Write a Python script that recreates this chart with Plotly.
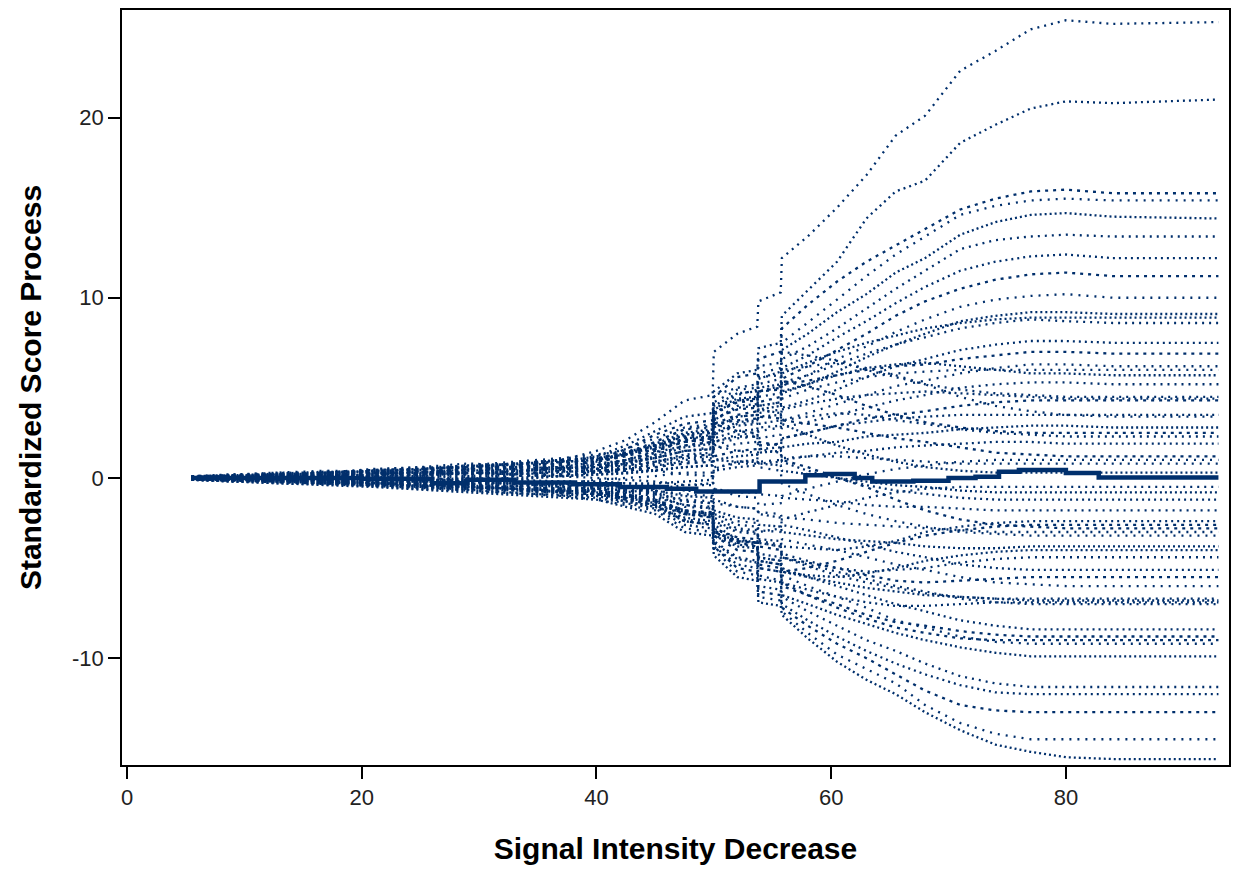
import plotly.graph_objects as go

# x positions (Signal Intensity Decrease) at which the simulated paths were read
knots = [5.5, 9, 13, 17, 21, 25, 29, 33, 37, 40, 42.5, 45, 47.5, 49.9, 50, 52, 53.7,
         53.8, 55.7, 55.8, 58, 60.5, 63, 65.5, 68, 71, 74, 77, 80, 84, 93]

# simulated standardized score processes (one list per path)
sim_01 = [0.08, 0.15, 0.2, 0.3, 0.35, 0.5, 0.6, 0.8, 1.0, 1.5, 2.1, 3.1, 4.3, 4.6, 7.0, 8.0, 8.4, 9.8, 10.3, 12.2, 13.4, 15.0, 16.8, 19.0, 20.1, 22.6, 23.7, 24.9, 25.4, 25.2, 25.3]
sim_02 = [0.05, 0.1, 0.25, 0.2, 0.4, 0.45, 0.7, 0.6, 0.9, 1.2, 1.8, 2.6, 3.4, 3.6, 4.8, 5.8, 6.0, 7.2, 7.5, 9.0, 10.4, 12.0, 14.4, 15.9, 16.5, 18.6, 19.6, 20.5, 20.9, 20.8, 21.0]
sim_03 = [-0.05, 0.1, -0.1, 0.15, 0.3, 0.2, 0.5, 0.7, 0.8, 1.0, 1.6, 2.4, 3.0, 3.2, 4.5, 5.6, 5.8, 6.6, 7.0, 8.3, 9.6, 10.9, 12.0, 12.9, 13.8, 14.9, 15.5, 15.9, 16.0, 15.8, 15.8]
sim_04 = [0.1, 0.0, 0.2, 0.35, 0.25, 0.4, 0.3, 0.6, 0.7, 0.8, 1.3, 2.0, 2.7, 2.8, 3.8, 4.6, 4.9, 5.8, 6.1, 7.5, 8.6, 9.9, 11.2, 12.4, 13.4, 14.6, 15.1, 15.4, 15.5, 15.4, 15.4]
sim_05 = [0.0, 0.05, 0.1, 0.0, 0.2, 0.35, 0.45, 0.3, 0.6, 0.9, 1.4, 1.9, 2.5, 2.7, 4.0, 4.7, 4.8, 5.5, 5.9, 7.1, 8.0, 9.2, 10.2, 11.4, 12.2, 13.5, 14.2, 14.6, 14.7, 14.5, 14.4]
sim_06 = [0.05, 0.2, 0.15, 0.3, 0.5, 0.6, 0.55, 0.8, 1.0, 1.1, 1.3, 1.6, 2.2, 2.4, 3.5, 4.3, 4.4, 5.2, 5.5, 6.6, 7.3, 8.3, 9.4, 10.5, 11.5, 12.7, 13.2, 13.4, 13.5, 13.4, 13.4]
sim_07 = [-0.05, 0.0, 0.1, 0.1, 0.3, 0.2, 0.4, 0.5, 0.4, 0.8, 1.0, 1.4, 2.2, 2.3, 3.2, 4.0, 4.1, 4.8, 5.1, 6.1, 6.8, 7.8, 8.7, 9.7, 10.6, 11.5, 12.0, 12.3, 12.4, 12.2, 12.2]
sim_08 = [0.0, -0.1, 0.05, -0.05, 0.1, 0.3, 0.2, 0.35, 0.55, 0.6, 0.9, 1.3, 1.8, 2.0, 3.0, 3.5, 3.7, 4.2, 4.5, 5.5, 6.2, 7.1, 8.0, 9.0, 9.8, 10.5, 11.0, 11.3, 11.4, 11.2, 11.2]
sim_09 = [0.1, 0.15, 0.3, 0.4, 0.35, 0.55, 0.7, 0.9, 1.1, 1.3, 1.5, 1.7, 2.0, 2.1, 2.8, 3.4, 3.5, 4.0, 4.2, 5.1, 5.7, 6.6, 7.3, 8.1, 8.8, 9.5, 9.9, 10.1, 10.2, 10.0, 10.0]
sim_10 = [0.0, 0.1, 0.05, 0.2, 0.15, 0.1, 0.3, 0.2, 0.3, 0.5, 0.8, 1.1, 1.5, 1.6, 2.5, 3.1, 3.2, 3.8, 4.0, 4.7, 5.2, 5.9, 6.7, 7.4, 8.0, 8.7, 9.0, 9.2, 9.2, 9.1, 9.1]
sim_11 = [-0.1, -0.15, -0.2, -0.1, 0.0, 0.2, 0.3, 0.5, 0.6, 0.7, 1.0, 1.4, 1.8, 2.0, 3.2, 3.9, 4.0, 4.5, 4.7, 5.3, 5.7, 6.3, 6.9, 7.4, 7.8, 8.3, 8.6, 8.8, 8.7, 8.6, 8.6]
sim_12 = [0.0, 0.05, -0.05, -0.15, 0.0, 0.1, 0.0, 0.2, 0.35, 0.4, 0.6, 0.9, 1.3, 1.4, 2.2, 2.6, 2.7, 3.0, 3.2, 3.9, 4.3, 4.9, 5.6, 6.2, 6.6, 7.1, 7.4, 7.6, 7.6, 7.5, 7.5]
sim_13 = [0.05, 0.1, 0.2, 0.15, 0.3, 0.4, 0.6, 0.5, 0.7, 0.9, 1.3, 1.8, 2.3, 2.5, 3.6, 4.2, 4.3, 4.8, 4.9, 5.2, 5.4, 5.7, 6.0, 6.2, 6.3, 6.6, 6.8, 7.0, 7.0, 6.9, 6.9]
sim_14 = [0.0, -0.05, 0.1, 0.2, 0.1, -0.1, 0.05, 0.15, 0.1, 0.3, 0.4, 0.6, 1.0, 1.1, 1.8, 2.2, 2.3, 2.6, 2.8, 3.2, 3.6, 4.1, 4.6, 5.1, 5.4, 5.8, 6.1, 6.3, 6.3, 6.2, 6.2]
sim_15 = [-0.05, 0.0, -0.1, 0.05, 0.2, 0.3, 0.25, 0.4, 0.6, 0.5, 0.8, 1.2, 1.7, 1.9, 2.8, 3.4, 3.5, 4.0, 4.2, 4.8, 5.2, 5.7, 6.1, 6.3, 6.4, 6.2, 6.0, 5.8, 5.8, 5.7, 5.7]
sim_16 = [0.05, 0.1, 0.0, 0.1, 0.25, 0.15, 0.3, 0.2, 0.4, 0.4, 0.5, 0.7, 0.9, 1.0, 1.6, 1.9, 2.0, 2.2, 2.4, 2.8, 3.1, 3.5, 3.9, 4.3, 4.6, 5.0, 5.2, 5.3, 5.3, 5.2, 5.2]
sim_17 = [0.1, 0.15, 0.1, 0.3, 0.4, 0.3, 0.5, 0.6, 0.55, 0.6, 0.9, 1.1, 1.5, 1.6, 2.4, 2.9, 3.0, 3.4, 3.5, 3.8, 4.1, 4.4, 4.6, 4.7, 4.8, 4.7, 4.6, 4.5, 4.4, 4.4, 4.4]
sim_18 = [-0.05, -0.1, -0.05, -0.2, -0.1, 0.0, -0.1, 0.1, 0.2, 0.3, 0.4, 0.6, 0.8, 0.9, 1.2, 1.5, 1.6, 1.8, 1.9, 2.2, 2.5, 2.9, 3.3, 3.5, 3.7, 4.0, 4.2, 4.3, 4.3, 4.3, 4.3]
sim_19 = [0.0, 0.05, 0.15, 0.2, 0.1, 0.35, 0.5, 0.7, 0.9, 1.0, 1.4, 2.0, 2.7, 2.9, 4.2, 4.9, 5.0, 5.6, 5.7, 6.0, 6.2, 6.4, 6.1, 5.7, 5.2, 4.5, 4.0, 3.7, 3.5, 3.4, 3.4]
sim_20 = [0.05, 0.0, -0.1, -0.05, -0.2, -0.15, 0.0, -0.1, 0.1, 0.2, 0.25, 0.4, 0.6, 0.7, 1.0, 1.2, 1.3, 1.4, 1.5, 1.7, 1.9, 2.0, 2.3, 2.4, 2.5, 2.7, 2.8, 2.9, 2.9, 2.8, 2.8]
sim_21 = [0.0, 0.1, 0.05, 0.15, 0.3, 0.25, 0.2, 0.4, 0.5, 0.5, 0.7, 0.9, 1.2, 1.3, 2.0, 2.4, 2.5, 2.8, 2.9, 3.2, 3.4, 3.6, 3.5, 3.2, 3.0, 2.7, 2.5, 2.4, 2.3, 2.3, 2.3]
sim_22 = [-0.1, -0.05, 0.0, 0.1, 0.0, -0.2, -0.1, -0.3, -0.2, -0.2, -0.3, -0.3, -0.2, -0.1, 0.4, 0.6, 0.7, 0.8, 0.9, 1.0, 1.2, 1.4, 1.5, 1.7, 1.8, 1.9, 2.0, 2.0, 1.9, 1.9, 1.9]
sim_23 = [0.0, 0.05, 0.2, 0.3, 0.45, 0.5, 0.6, 0.8, 1.0, 1.1, 1.4, 1.8, 2.1, 2.3, 3.0, 3.2, 3.3, 3.4, 3.3, 3.2, 3.0, 2.8, 2.5, 2.2, 2.0, 1.7, 1.4, 1.3, 1.2, 1.2, 1.2]
sim_24 = [0.05, 0.0, -0.1, 0.0, -0.1, -0.25, -0.3, -0.2, -0.35, -0.1, 0.0, 0.1, 0.3, 0.3, 0.6, 0.8, 0.8, 0.9, 1.0, 1.1, 1.2, 1.2, 1.1, 1.0, 0.9, 0.8, 0.8, 0.8, 0.8, 0.8, 0.8]
sim_25 = [0.0, -0.05, -0.15, -0.1, -0.25, -0.2, -0.1, 0.0, 0.1, 0.2, 0.3, 0.45, 0.6, 0.7, 1.0, 0.9, 0.9, 0.8, 0.7, 0.4, 0.2, 0.0, -0.2, -0.4, -0.5, -0.7, -0.8, -0.8, -0.8, -0.8, -0.8]
sim_26 = [-0.05, 0.0, 0.05, 0.2, 0.25, 0.35, 0.3, 0.2, 0.1, 0.0, -0.1, -0.2, -0.4, -0.4, -0.6, -0.8, -0.8, -0.9, -1.0, -1.1, -1.2, -1.3, -1.5, -1.6, -1.6, -1.7, -1.8, -1.8, -1.8, -1.8, -1.8]
sim_27 = [0.0, -0.05, -0.1, -0.2, -0.3, -0.35, -0.5, -0.6, -0.7, -0.7, -0.9, -1.1, -1.5, -1.7, -2.4, -2.9, -3.0, -3.4, -3.5, -3.8, -3.9, -4.0, -3.8, -3.5, -3.0, -2.7, -2.5, -2.4, -2.4, -2.4, -2.4]
sim_28 = [0.05, 0.1, 0.0, 0.1, 0.2, 0.4, 0.5, 0.6, 0.8, 0.9, 1.2, 1.6, 2.0, 2.2, 3.0, 2.6, 2.5, 2.0, 1.8, 1.0, 0.6, 0.0, -0.5, -1.2, -1.8, -2.3, -2.6, -2.7, -2.8, -2.8, -2.8]
sim_29 = [0.0, 0.0, -0.1, -0.05, -0.15, -0.3, -0.25, -0.4, -0.3, -0.4, -0.5, -0.7, -0.9, -1.0, -1.4, -1.6, -1.7, -1.9, -2.0, -2.2, -2.3, -2.5, -2.6, -2.7, -2.8, -2.9, -3.0, -3.0, -3.0, -3.0, -3.0]
sim_30 = [-0.1, -0.2, -0.15, -0.3, -0.4, -0.5, -0.6, -0.45, -0.3, -0.4, -0.5, -0.7, -1.0, -1.1, -1.8, -2.2, -2.3, -2.6, -2.7, -3.0, -3.2, -3.4, -3.5, -3.6, -3.8, -3.9, -3.9, -3.8, -3.8, -3.8, -3.8]
sim_31 = [0.0, 0.1, 0.15, 0.0, 0.1, -0.1, -0.2, -0.3, -0.4, -0.5, -0.6, -0.8, -1.3, -1.4, -2.2, -2.8, -2.9, -3.5, -3.7, -4.2, -4.6, -5.0, -5.2, -5.1, -5.0, -4.7, -4.5, -4.4, -4.4, -4.4, -4.4]
sim_32 = [0.05, 0.0, 0.1, -0.05, -0.1, 0.0, -0.2, -0.1, -0.2, -0.2, -0.3, -0.4, -0.7, -0.8, -1.2, -1.6, -1.7, -2.0, -2.2, -2.6, -2.9, -3.3, -3.7, -4.1, -4.4, -4.8, -5.0, -5.1, -5.1, -5.1, -5.1]
sim_33 = [-0.05, -0.1, -0.2, -0.3, -0.35, -0.5, -0.6, -0.7, -0.85, -0.9, -1.1, -1.3, -1.8, -2.0, -2.8, -3.3, -3.4, -3.8, -4.0, -4.4, -4.7, -5.0, -5.4, -5.7, -5.8, -5.7, -5.6, -5.5, -5.5, -5.5, -5.5]
sim_34 = [0.0, -0.05, -0.1, -0.25, -0.2, -0.4, -0.35, -0.5, -0.55, -0.6, -0.7, -0.8, -1.2, -1.3, -2.0, -2.4, -2.5, -2.9, -3.0, -3.4, -3.7, -4.0, -4.4, -4.8, -5.1, -5.5, -5.8, -5.9, -6.0, -6.0, -6.0]
sim_35 = [-0.1, -0.05, -0.15, -0.2, -0.3, -0.45, -0.55, -0.7, -0.8, -1.0, -1.3, -1.6, -2.2, -2.4, -3.2, -3.8, -3.9, -4.6, -4.8, -5.2, -5.5, -5.8, -6.1, -6.3, -6.5, -6.6, -6.7, -6.8, -6.8, -6.8, -6.8]
sim_36 = [0.05, 0.1, 0.2, 0.1, 0.0, -0.1, -0.2, -0.35, -0.5, -0.6, -0.8, -1.0, -1.5, -1.6, -2.5, -3.0, -3.1, -3.6, -3.8, -4.4, -4.8, -5.2, -5.6, -6.0, -6.3, -6.7, -6.9, -7.0, -7.0, -7.0, -7.0]
sim_37 = [0.0, -0.1, -0.05, -0.1, -0.2, -0.25, -0.3, -0.45, -0.6, -0.7, -0.9, -1.2, -1.8, -2.0, -2.8, -3.4, -3.6, -4.2, -4.4, -5.0, -5.5, -6.0, -6.5, -7.0, -7.4, -7.9, -8.2, -8.4, -8.4, -8.4, -8.4]
sim_38 = [-0.05, -0.15, -0.25, -0.3, -0.4, -0.35, -0.5, -0.6, -0.7, -0.8, -1.0, -1.3, -2.0, -2.2, -3.2, -4.0, -4.1, -5.0, -5.2, -6.0, -6.5, -7.0, -7.6, -8.0, -8.2, -8.5, -8.7, -8.8, -8.8, -8.8, -8.8]
sim_39 = [0.0, 0.05, 0.0, -0.05, -0.1, -0.2, -0.15, -0.3, -0.4, -0.5, -0.7, -0.9, -1.6, -1.7, -2.6, -3.4, -3.6, -4.4, -4.6, -5.4, -6.0, -6.6, -7.2, -7.9, -8.3, -8.8, -9.1, -9.2, -9.2, -9.2, -9.2]
sim_40 = [-0.1, -0.2, -0.3, -0.35, -0.45, -0.6, -0.7, -0.85, -0.95, -1.0, -1.3, -1.6, -2.4, -2.6, -3.6, -4.5, -4.7, -5.6, -5.8, -6.5, -7.0, -7.6, -8.1, -8.6, -9.0, -9.4, -9.7, -9.9, -9.9, -9.9, -9.9]
sim_41 = [0.0, -0.05, -0.1, -0.2, -0.3, -0.4, -0.5, -0.6, -0.8, -0.9, -1.2, -1.5, -2.3, -2.5, -3.5, -4.4, -4.6, -5.4, -5.7, -6.6, -7.4, -8.2, -9.0, -9.6, -10.3, -11.0, -11.4, -11.6, -11.6, -11.6, -11.6]
sim_42 = [-0.05, -0.1, -0.2, -0.3, -0.4, -0.5, -0.65, -0.8, -0.95, -1.1, -1.4, -1.7, -2.6, -2.8, -3.8, -4.8, -5.0, -6.0, -6.2, -7.0, -7.9, -8.8, -9.6, -10.3, -10.9, -11.5, -11.9, -12.0, -12.0, -12.0, -12.0]
sim_43 = [0.0, -0.05, -0.15, -0.1, -0.2, -0.35, -0.45, -0.6, -0.75, -0.9, -1.2, -1.5, -2.4, -2.6, -3.8, -5.0, -5.2, -6.3, -6.5, -7.2, -8.2, -9.2, -10.0, -10.9, -11.8, -12.6, -12.9, -13.0, -13.0, -13.0, -13.0]
sim_44 = [-0.05, -0.15, -0.2, -0.35, -0.45, -0.55, -0.7, -0.85, -1.0, -1.2, -1.5, -1.8, -2.8, -3.0, -4.0, -5.2, -5.4, -6.6, -6.8, -7.4, -8.6, -9.8, -10.6, -11.4, -12.6, -13.6, -14.2, -14.5, -14.5, -14.5, -14.5]
sim_45 = [-0.1, -0.2, -0.3, -0.4, -0.5, -0.65, -0.8, -0.95, -1.1, -1.2, -1.6, -2.0, -3.0, -3.2, -4.3, -5.5, -5.7, -6.9, -7.1, -7.6, -8.9, -10.2, -11.2, -12.0, -13.0, -14.0, -14.8, -15.2, -15.5, -15.6, -15.6]
sim_46 = [0.1, 0.2, 0.3, 0.25, 0.45, 0.6, 0.8, 0.7, 1.0, 1.2, 1.6, 2.2, 2.8, 3.0, 4.6, 5.0, 5.2, 6.2, 6.4, 7.0, 6.8, 6.5, 6.0, 5.6, 5.2, 4.9, 4.7, 4.6, 4.5, 4.5, 4.5]
sim_47 = [-0.05, -0.1, 0.0, -0.15, -0.3, -0.2, -0.4, -0.3, -0.5, -0.6, -0.8, -0.6, -0.4, -0.3, 0.5, 0.9, 1.0, 1.6, 1.7, 2.2, 2.5, 2.9, 3.1, 3.3, 3.4, 3.5, 3.5, 3.5, 3.5, 3.5, 3.5]
sim_48 = [0.0, 0.1, 0.2, 0.1, 0.2, 0.4, 0.35, 0.6, 0.5, 0.7, 1.0, 1.5, 2.0, 2.2, 3.3, 3.8, 3.9, 4.8, 5.0, 5.4, 5.1, 4.6, 4.0, 3.5, 3.1, 2.8, 2.6, 2.5, 2.5, 2.5, 2.5]
sim_49 = [-0.05, 0.0, -0.1, 0.05, -0.05, 0.1, 0.15, 0.3, 0.2, 0.4, 0.5, 0.4, 0.2, 0.1, -0.6, -1.0, -1.1, -1.5, -1.4, -1.0, -0.6, -0.2, 0.2, 0.5, 0.7, 0.9, 1.0, 1.0, 1.0, 1.0, 1.0]
sim_50 = [0.05, 0.15, 0.25, 0.35, 0.3, 0.5, 0.65, 0.8, 0.9, 1.0, 1.3, 1.7, 2.4, 2.6, 3.8, 4.4, 4.5, 3.8, 3.6, 3.0, 2.4, 1.8, 1.3, 0.9, 0.6, 0.4, 0.3, 0.3, 0.3, 0.3, 0.3]
sim_51 = [0.0, -0.1, -0.2, -0.3, -0.25, -0.4, -0.5, -0.6, -0.75, -0.9, -1.1, -1.5, -2.0, -2.2, -3.2, -3.6, -3.7, -3.0, -2.8, -2.3, -1.9, -1.5, -1.1, -0.8, -0.6, -0.5, -0.5, -0.5, -0.5, -0.5, -0.5]
sim_52 = [0.1, 0.05, 0.15, 0.0, 0.1, 0.2, 0.1, 0.25, 0.4, 0.3, 0.5, 0.8, 1.1, 1.2, 2.0, 2.3, 2.3, 1.6, 1.4, 0.9, 0.4, 0.0, -0.4, -0.7, -0.9, -1.1, -1.2, -1.2, -1.2, -1.2, -1.2]
sim_53 = [-0.05, -0.15, -0.1, -0.2, -0.35, -0.3, -0.45, -0.55, -0.6, -0.8, -1.0, -1.3, -1.9, -2.0, -3.0, -3.5, -3.6, -4.6, -4.8, -5.2, -5.0, -4.6, -4.1, -3.6, -3.2, -2.9, -2.7, -2.6, -2.6, -2.6, -2.6]
sim_54 = [0.0, 0.05, 0.1, 0.2, 0.15, 0.3, 0.4, 0.35, 0.5, 0.6, 0.7, 0.9, 1.2, 1.3, 1.8, 1.5, 1.4, 0.6, 0.4, -0.3, -0.9, -1.5, -2.0, -2.4, -2.7, -3.0, -3.1, -3.2, -3.2, -3.2, -3.2]
sim_55 = [-0.1, -0.1, -0.2, -0.2, -0.3, -0.45, -0.4, -0.6, -0.7, -0.8, -1.1, -1.4, -2.0, -2.1, -3.0, -3.5, -3.6, -4.4, -4.6, -5.2, -5.4, -5.5, -5.3, -5.0, -4.6, -4.3, -4.1, -4.0, -4.0, -4.0, -4.0]
sim_56 = [0.05, 0.0, -0.05, -0.1, -0.05, -0.2, -0.3, -0.25, -0.4, -0.5, -0.7, -0.9, -1.3, -1.4, -2.0, -2.6, -2.7, -3.6, -3.8, -4.4, -4.9, -5.4, -5.8, -6.1, -6.4, -6.6, -6.7, -6.7, -6.7, -6.7, -6.7]
sim_57 = [-0.05, -0.1, -0.15, -0.25, -0.3, -0.4, -0.5, -0.6, -0.7, -0.75, -1.0, -1.3, -1.9, -2.1, -3.0, -3.7, -3.8, -5.0, -5.2, -5.8, -6.2, -6.6, -6.9, -7.1, -7.1, -7.0, -6.9, -6.9, -6.9, -6.9, -6.9]
sim_58 = [0.0, -0.05, -0.1, -0.1, -0.2, -0.3, -0.35, -0.5, -0.6, -0.7, -0.9, -1.2, -1.8, -1.9, -2.9, -3.6, -3.8, -4.8, -5.0, -5.8, -6.5, -7.2, -7.8, -8.3, -8.6, -8.9, -9.0, -9.0, -9.0, -9.0, -9.0]
sim_59 = [-0.05, 0.05, 0.0, 0.1, 0.05, 0.2, 0.25, 0.4, 0.45, 0.6, 0.8, 1.1, 1.5, 1.7, 2.4, 3.0, 3.1, 3.6, 3.8, 4.4, 4.9, 5.3, 5.6, 5.8, 5.9, 6.0, 6.0, 6.0, 6.0, 6.0, 6.0]
sim_60 = [0.05, 0.1, 0.15, 0.3, 0.4, 0.5, 0.6, 0.75, 0.9, 1.0, 1.3, 1.8, 2.4, 2.6, 3.6, 4.3, 4.4, 5.0, 5.2, 5.8, 6.4, 7.0, 7.5, 7.9, 8.3, 8.6, 8.8, 8.9, 8.9, 8.9, 8.9]

sims = [sim_01, sim_02, sim_03, sim_04, sim_05, sim_06, sim_07, sim_08, sim_09, sim_10,
        sim_11, sim_12, sim_13, sim_14, sim_15, sim_16, sim_17, sim_18, sim_19, sim_20,
        sim_21, sim_22, sim_23, sim_24, sim_25, sim_26, sim_27, sim_28, sim_29, sim_30,
        sim_31, sim_32, sim_33, sim_34, sim_35, sim_36, sim_37, sim_38, sim_39, sim_40,
        sim_41, sim_42, sim_43, sim_44, sim_45, sim_46, sim_47, sim_48, sim_49, sim_50,
        sim_51, sim_52, sim_53, sim_54, sim_55, sim_56, sim_57, sim_58, sim_59, sim_60]

# observed standardized score process (step function)
obs_x = [5.5, 20, 26, 29, 33, 38, 42, 46, 48.5, 52, 53.9, 57.8, 59.5, 62, 63.5, 67, 70, 72.3, 74.3, 76, 80, 82.8, 93]
obs_y = [0.0, -0.05, -0.3, -0.1, -0.25, -0.35, -0.5, -0.6, -0.75, -0.75, -0.2, 0.15, 0.22, 0.0, -0.2, -0.15, 0.0, 0.07, 0.35, 0.44, 0.27, 0.02, 0.02]

x_ticks = [0, 20, 40, 60, 80]
y_ticks = [-10, 0, 10, 20]
y_tick_text = ["-10", "0", "10", "20"]

for i, s in enumerate(sims):
    assert len(s) == len(knots), (i + 1, len(s))

NAVY = "#002f6c"
FONT = "Liberation Sans, Arial, sans-serif"
DASHES = ["2px,5px", "2px,4px", "3px,5px", "2px,6px", "2px,3px"]

fig = go.Figure()
for i, s in enumerate(sims):
    fig.add_trace(go.Scatter(x=knots, y=s, mode="lines",
                             line=dict(color=NAVY, width=2.3, dash=DASHES[i % len(DASHES)]),
                             hoverinfo="skip", showlegend=False))
fig.add_trace(go.Scatter(x=obs_x, y=obs_y, mode="lines",
                         line=dict(color=NAVY, width=4.5, shape="hv"),
                         showlegend=False))

axis_common = dict(showgrid=False, zeroline=False, showline=True, linecolor="black",
                   linewidth=1.6, mirror=True, ticks="outside", ticklen=12,
                   tickwidth=1.6, tickcolor="black",
                   tickfont=dict(family=FONT, size=22, color="#222222"))

fig.update_layout(
    width=1233, height=871,
    margin=dict(l=122, r=2, t=10, b=106),
    paper_bgcolor="white", plot_bgcolor="white",
    xaxis=dict(range=[-0.43, 93.9], tickvals=x_ticks,
               title=dict(text="<b>Signal Intensity Decrease</b>", standoff=29,
                          font=dict(family=FONT, size=30, color="black")),
               **axis_common),
    yaxis=dict(range=[-15.93, 25.97], tickvals=y_ticks, ticktext=y_tick_text,
               title=dict(text="<b>Standardized Score Process</b>", standoff=22,
                          font=dict(family=FONT, size=30, color="black")),
               **axis_common),
)

fig.write_html("out.html", config={"displayModeBar": False},
               post_script="document.body.style.margin='0';")
